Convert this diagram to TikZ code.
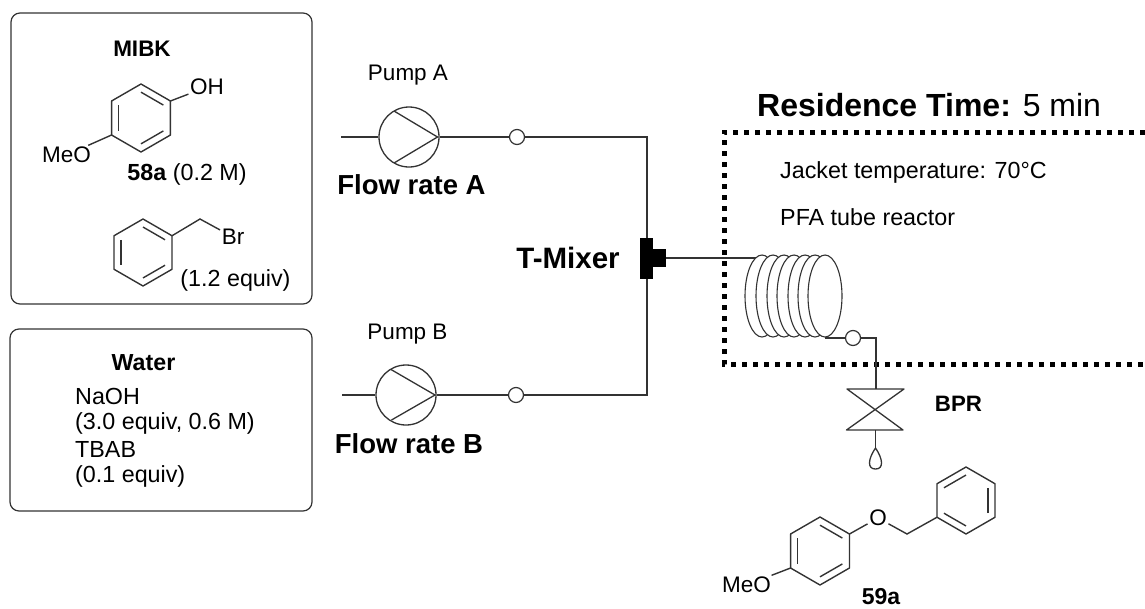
\documentclass[tikz,border=0pt]{standalone}
\usepackage{fontspec}
\setmainfont{Liberation Sans}
\usetikzlibrary{positioning,shapes.geometric}

\definecolor{linegray}{HTML}{333333}

\tikzset{
  txt/.style={inner sep=0pt, font=\fontsize{23.3}{27}\selectfont},
  pumptxt/.style={inner sep=0pt, font=\fontsize{22.5}{26}\selectfont},
  boldtxt/.style={inner sep=0pt, font=\fontsize{27.5}{32}\selectfont\bfseries},
  atom/.style={inner sep=1.5pt, font=\fontsize{22.5}{26}\selectfont},
  bond/.style={draw=linegray, line width=1.4pt},
  pipe/.style={draw=linegray, line width=1.3pt},
  panel/.style={draw=linegray, line width=1.2pt, rounded corners=9pt},
  pumpcirc/.style={circle, draw=linegray, line width=1.3pt, inner sep=0pt, minimum size=60pt},
  port/.style={circle, draw=linegray, fill=white, line width=1.2pt, inner sep=0pt, minimum size=15pt},
  loopcoil/.style={ellipse, draw=linegray, fill=white, line width=1.1pt, inner sep=0pt, minimum width=34pt, minimum height=82pt},
  zone/.style={line width=5pt, dash pattern=on 5pt off 6pt, black}
}

% ring: name, x, y, radius, first double bond
\newcommand{\benzring}[5]{
  \foreach \k in {0,...,5}{
    \coordinate (#1-\k) at ({#2+#4*cos(90+60*\k)},{#3-#4*sin(90+60*\k)});
  }
  \draw[bond, line join=round] (#1-0) -- (#1-1) -- (#1-2) -- (#1-3) -- (#1-4) -- (#1-5) -- cycle;
  \foreach \k in {0,2,4}{
    \draw[bond] ({#2+.76*#4*cos(90+60*(\k+#5))},{#3-.76*#4*sin(90+60*(\k+#5))})
      -- ({#2+.76*#4*cos(150+60*(\k+#5))},{#3-.76*#4*sin(150+60*(\k+#5))});
  }
}

\begin{document}
\begin{tikzpicture}[x=1pt,y=-1pt]
\useasboundingbox (0,0) rectangle (1145,608);

% Feed panels
\node[panel, minimum width=301pt, minimum height=291pt] (panelA) at (161.5,158.5) {};
\node[panel, minimum width=302pt, minimum height=182pt] (panelB) at (161,420) {};

% Feed A texts
\node[txt, font=\fontsize{22.5}{26}\selectfont\bfseries] (mibk) at (142,49) {MIBK};
\node[txt] (conc) at (187,174) {\textbf{58a} (0.2 M)};
\node[txt] (equivA) at (235.5,280) {(1.2 equiv)};

% Phenol
\benzring{phenol}{141}{118}{34}{1}
\node[atom] (oh) at (207,87) {OH};
\node[atom] (meoA) at (66.5,155) {MeO};
\draw[bond] (phenol-5) -- (oh);
\draw[bond] (phenol-2) -- (meoA);

% Benzyl bromide
\benzring{bromo}{143}{252.5}{33.5}{1}
\coordinate (ch2A) at (200,219);
\node[atom] (br) at (233,237) {Br};
\draw[bond] (bromo-5) -- (ch2A) -- (br);

% Feed B texts
\node[txt, font=\fontsize{23.2}{27}\selectfont\bfseries] (water) at (143.5,363) {Water};
\node[txt, anchor=west] (naoh) at (75,396) {NaOH};
\node[txt, anchor=west] (equivB) at (75,423) {(3.0 equiv, 0.6 M)};
\node[txt, anchor=west] (tbab) at (75,449) {TBAB};
\node[txt, anchor=west] (equivC) at (75,476) {(0.1 equiv)};

% Pump A
\coordinate (inA) at (341,137);
\node[pumpcirc] (pumpA) at (409,137) {};
\coordinate (a1) at (394,111);
\coordinate (a2) at (437.5,137);
\coordinate (a3) at (394,163);
\draw[pipe] (a1) -- (a2) -- (a3);
\node[port] (portA) at (517,137) {};
\node[pumptxt] (nameA) at (408,75) {Pump A};
\node[boldtxt] (rateA) at (411.5,185) {Flow rate A};

% Pump B
\coordinate (inB) at (342,395);
\node[pumpcirc] (pumpB) at (406,395) {};
\coordinate (b1) at (391,369.5);
\coordinate (b2) at (435,395);
\coordinate (b3) at (391.5,420);
\draw[pipe] (b1) -- (b2) -- (b3);
\node[port] (portB) at (516,395) {};
\node[pumptxt] (nameB) at (407.5,334) {Pump B};
\node[boldtxt] (rateB) at (409,444) {Flow rate B};

% Pipes to the mixer
\coordinate (elbowA) at (647,137);
\coordinate (elbowB) at (647,395);
\draw[pipe] (inA) -- (pumpA);
\draw[pipe] (pumpA) -- (portA);
\draw[pipe] (portA) -- (elbowA) -- (elbowB) -- (portB);
\draw[pipe] (pumpB) -- (portB);
\draw[pipe] (inB) -- (pumpB);

% T-Mixer
\node[fill=black, inner sep=0pt, minimum width=13pt, minimum height=41pt] (tbar) at (646.5,258.5) {};
\node[fill=black, inner sep=0pt, minimum width=14pt, minimum height=18pt] (tstub) at (659,258) {};
\node[boldtxt, font=\fontsize{29.5}{34}\selectfont\bfseries] (tlabel) at (568,258) {T-Mixer};

% Reactor zone
\draw[zone] (1145,132) -- (724,132) -- (724,364) -- (1145,364);
\node[txt, font=\fontsize{32}{38}\selectfont, anchor=west] (restime) at (757,105) {\textbf{Residence Time:} 5 min};
\node[txt, anchor=west] (jacket) at (780,172) {Jacket temperature: 70°C};
\node[txt, anchor=west] (pfa) at (780,217) {PFA tube reactor};

% Coil
\coordinate (coilin) at (757,258);
\draw[pipe] (tstub) -- (coilin);
\foreach \i/\cx in {1/762,2/773,3/784,4/794,5/805,6/815,7/825}{
  \node[loopcoil] (coil\i) at (\cx,296) {};
}

% Outlet and BPR
\node[port] (portC) at (853,338) {};
\coordinate (elbowC) at (876,338);
\coordinate (vtop) at (876,389);
\coordinate (coilout) at (825,338);
\draw[pipe] (coilout) -- (portC);
\draw[pipe] (portC) -- (elbowC) -- (vtop);
\coordinate (v1) at (847,389);
\coordinate (v2) at (904,389);
\coordinate (v3) at (846.5,430);
\coordinate (v4) at (903,430);
\draw[pipe, line join=round] (v1) -- (v2) -- (v3) -- (v4) -- cycle;
\coordinate (vbot) at (875.5,430);
\coordinate (dtop) at (875.5,448);
\draw[pipe] (vbot) -- (dtop);
\draw[pipe] (dtop) .. controls (883,459) and (884,469) .. (875.5,469) .. controls (867,469) and (868,459) .. (dtop);
\node[txt, font=\fontsize{22.3}{26}\selectfont\bfseries] (bpr) at (958.5,404) {BPR};

% Product
\benzring{anis}{820}{551}{34}{1}
\benzring{phen}{966}{500.5}{33.5}{0}
\node[atom] (ether) at (878,518) {O};
\coordinate (ch2B) at (907,534);
\node[atom] (meoB) at (746.5,585) {MeO};
\draw[bond] (anis-5) -- (ether);
\draw[bond] (ether) -- (ch2B) -- (phen-2);
\draw[bond] (anis-2) -- (meoB);
\node[txt, font=\fontsize{23}{27}\selectfont\bfseries] (prod) at (881,596.5) {59a};

\end{tikzpicture}
\end{document}
